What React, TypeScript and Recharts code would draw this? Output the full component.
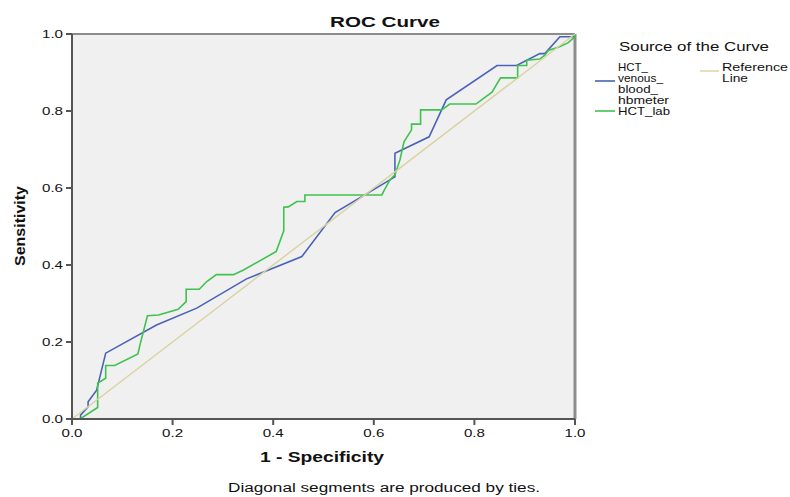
import { LineChart, Line, XAxis, YAxis, CartesianGrid, ReferenceLine } from 'recharts';

// 1 - specificity / sensitivity pairs
const venousFpr = [0, 0.017, 0.017, 0.032, 0.032, 0.049, 0.067, 0.168, 0.248, 0.347, 0.457, 0.523, 0.632, 0.642, 0.642, 0.71, 0.744, 0.845, 0.884, 0.93, 0.94, 0.97, 0.997, 1];
const venousTpr = [0, 0, 0.01, 0.032, 0.045, 0.075, 0.171, 0.244, 0.288, 0.364, 0.422, 0.536, 0.621, 0.629, 0.69, 0.733, 0.829, 0.918, 0.918, 0.949, 0.949, 0.993, 0.993, 1];

const labFpr = [0, 0.016, 0.051, 0.051, 0.067, 0.067, 0.085, 0.131, 0.135, 0.15, 0.172, 0.211, 0.227, 0.227, 0.253, 0.268, 0.287, 0.321, 0.341, 0.406, 0.421, 0.421, 0.43, 0.447, 0.463, 0.463, 0.616, 0.619, 0.632, 0.642, 0.652, 0.66, 0.675, 0.675, 0.693, 0.693, 0.735, 0.751, 0.803, 0.835, 0.852, 0.886, 0.886, 0.904, 0.904, 0.93, 0.94, 0.947, 0.968, 0.986, 1, 1];
const labTpr = [0, 0, 0.03, 0.093, 0.106, 0.139, 0.139, 0.169, 0.192, 0.268, 0.27, 0.285, 0.305, 0.337, 0.337, 0.357, 0.375, 0.375, 0.387, 0.435, 0.489, 0.55, 0.551, 0.565, 0.565, 0.582, 0.582, 0.59, 0.621, 0.634, 0.673, 0.72, 0.751, 0.766, 0.766, 0.803, 0.803, 0.818, 0.818, 0.849, 0.886, 0.886, 0.918, 0.918, 0.932, 0.935, 0.945, 0.957, 0.966, 0.977, 0.993, 1];

const refFpr = [0, 1];
const refTpr = [0, 1];

const ticks = [0, 0.2, 0.4, 0.6, 0.8, 1];

const BLUE = '#4a62b8';
const GREEN = '#3fc24e';
const REF = '#d9d2a2';
const FONT = '"Liberation Sans", Arial, sans-serif';

const toPoints = (xs: number[], ys: number[]) => xs.map((x, i) => ({ x, y: ys[i] }));

const YTick = ({ x, y, payload }: any) => (
  <text x={x} y={y} dy={4} textAnchor="end" fontSize={11} fontFamily={FONT} fill="#111"
    textLength={21} lengthAdjust="spacingAndGlyphs">
    {payload.value.toFixed(1)}
  </text>
);

const XTick = ({ x, y, payload }: any) => (
  <text x={x} y={y} dy="0.71em" textAnchor="middle" fontSize={11} fontFamily={FONT} fill="#111"
    textLength={21} lengthAdjust="spacingAndGlyphs">
    {payload.value.toFixed(1)}
  </text>
);

export default function App() {
  return (
    <div style={{ position: 'absolute', left: 0, top: 0, width: 790, height: 497, background: '#fff' }}>
      <LineChart width={790} height={497} margin={{ top: 34, right: 215, bottom: 48, left: 32 }}>
        <CartesianGrid fill="#f0f0f0" horizontal={false} vertical={false} />
        <XAxis dataKey="x" type="number" domain={[0, 1]} ticks={ticks} height={30}
          stroke="#555" strokeWidth={2} tickSize={6} tickMargin={4} tick={<XTick />} />
        <YAxis dataKey="y" type="number" domain={[0, 1]} ticks={ticks} width={40}
          stroke="#555" strokeWidth={2} tickSize={6} tickMargin={3} tick={<YTick />} />
        <ReferenceLine y={1} stroke="#8c8c8c" strokeWidth={2} />
        <ReferenceLine x={1} stroke="#8c8c8c" strokeWidth={3} />
        <Line data={toPoints(venousFpr, venousTpr)} dataKey="y" stroke={BLUE} strokeWidth={1.6}
          dot={false} isAnimationActive={false} />
        <Line data={toPoints(labFpr, labTpr)} dataKey="y" stroke={GREEN} strokeWidth={1.6}
          dot={false} isAnimationActive={false} />
        <Line data={toPoints(refFpr, refTpr)} dataKey="y" stroke={REF} strokeWidth={1.4}
          dot={false} isAnimationActive={false} />
      </LineChart>

      <svg width={790} height={497} style={{ position: 'absolute', left: 0, top: 0, pointerEvents: 'none' }}
        fontFamily={FONT} fill="#111">
        <text x={385} y={27} textAnchor="middle" fontSize={15} fontWeight="bold" textLength={110}
          lengthAdjust="spacingAndGlyphs">ROC Curve</text>
        <text x={322} y={462} textAnchor="middle" fontSize={14} fontWeight="bold" textLength={124}
          lengthAdjust="spacingAndGlyphs">1 - Specificity</text>
        <text transform="translate(25,226) rotate(-90)" textAnchor="middle" fontSize={15} fontWeight="bold"
          textLength={80} lengthAdjust="spacingAndGlyphs">Sensitivity</text>
        <text x={384} y={492} textAnchor="middle" fontSize={12} textLength={312}
          lengthAdjust="spacingAndGlyphs">Diagonal segments are produced by ties.</text>

        <text x={619} y={51} fontSize={12} textLength={150} lengthAdjust="spacingAndGlyphs">Source of the Curve</text>

        <line x1={595} x2={615} y1={81} y2={81} stroke={BLUE} strokeWidth={1.6} />
        <text x={618} y={71} fontSize={11} textLength={30} lengthAdjust="spacingAndGlyphs">HCT_</text>
        <text x={618} y={82} fontSize={11} textLength={45} lengthAdjust="spacingAndGlyphs">venous_</text>
        <text x={618} y={93} fontSize={11} textLength={40} lengthAdjust="spacingAndGlyphs">blood_</text>
        <text x={618} y={104} fontSize={11} textLength={51} lengthAdjust="spacingAndGlyphs">hbmeter</text>

        <line x1={595} x2={615} y1={111} y2={111} stroke={GREEN} strokeWidth={1.6} />
        <text x={618} y={115} fontSize={11} textLength={52} lengthAdjust="spacingAndGlyphs">HCT_lab</text>

        <line x1={700} x2={719} y1={71} y2={71} stroke={REF} strokeWidth={1.4} />
        <text x={722} y={71} fontSize={11} textLength={66} lengthAdjust="spacingAndGlyphs">Reference</text>
        <text x={722} y={82} fontSize={11} textLength={26} lengthAdjust="spacingAndGlyphs">Line</text>
      </svg>
    </div>
  );
}
